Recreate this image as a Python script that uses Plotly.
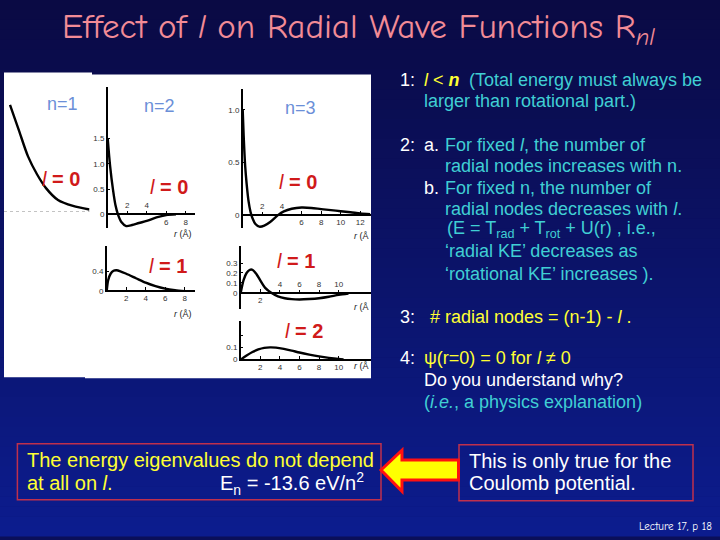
import plotly.graph_objects as go

# ---------------- data (r in Å, R in panel units) ----------------
r_n1_l0 = [0.2, 0.5, 0.8, 1.1, 1.4, 1.8, 2.3, 2.85]
R_n1_l0 = [2.7, 2.05, 1.4, 0.95, 0.6, 0.3, 0.15, 0.06]

r_n2_l0 = [0, 0.25, 0.55, 0.8, 1.05, 1.4, 1.9, 2.5, 3.2, 4, 5, 6, 7]
R_n2_l0 = [1.5, 0.95, 0.48, 0.18, 0.0, -0.15, -0.23, -0.21, -0.17, -0.13, -0.06, -0.015, 0.0]

r_n2_l1 = [0, 0.15, 0.4, 0.7, 1.0, 1.4, 2, 3, 4, 5, 6, 7, 8]
R_n2_l1 = [0, 0.22, 0.35, 0.41, 0.42, 0.40, 0.35, 0.26, 0.17, 0.10, 0.05, 0.02, 0.0]

r_n3_l0 = [0, 0.1, 0.25, 0.4, 0.6, 0.8, 1.0, 1.3, 1.7, 2.2, 2.8, 3.6, 4.2, 5, 6, 7, 8, 9, 10, 11, 12, 13]
R_n3_l0 = [1.0, 0.75, 0.47, 0.3, 0.13, 0.03, -0.03, -0.085, -0.11, -0.10, -0.065, 0.0, 0.035, 0.06,
           0.072, 0.068, 0.057, 0.047, 0.037, 0.027, 0.016, 0.008]

r_n3_l1 = [0, 0.3, 0.6, 0.9, 1.2, 1.6, 2.0, 2.5, 3.2, 3.8, 4.5, 5.2, 6, 7, 8, 9, 10, 11]
R_n3_l1 = [0, 0.13, 0.2, 0.23, 0.232, 0.19, 0.125, 0.05, -0.005, -0.035, -0.055, -0.064, -0.067,
           -0.063, -0.055, -0.04, -0.02, -0.007]

r_n3_l2 = [0, 0.6, 1.2, 1.8, 2.4, 3.0, 3.6, 4.4, 5.2, 6, 7, 8, 9, 10, 10.5]
R_n3_l2 = [0, 0.033, 0.062, 0.083, 0.096, 0.1, 0.098, 0.088, 0.074, 0.058, 0.041, 0.026, 0.014, 0.005, 0.002]

# tick labels (x ticks split into those printed below and above the r axis)
xb_n2_l0 = [6, 8];          xa_n2_l0 = [2, 4]
xb_n2_l1 = [2, 4, 6, 8]
xb_n3_l0 = [6, 8, 10, 12];  xa_n3_l0 = [2, 4]
xb_n3_l1 = [2];             xa_n3_l1 = [4, 6, 8, 10]
xb_n3_l2 = [2, 4, 6, 8, 10]
yt_n2_l0 = [0, 0.5, 1.0, 1.5]; yl_n2_l0 = ["0", "0.5", "1.0", "1.5"]
yt_n2_l1 = [0, 0.4]; yl_n2_l1 = ["0", "0.4"]
yt_n3_l0 = [0, 0.5, 1.0]; yl_n3_l0 = ["0", "0.5", "1.0"]
yt_n3_l1 = [0, 0.1, 0.2, 0.3]; yl_n3_l1 = ["0", "0.1", "0.2", "0.3"]
yt_n3_l2 = [0, 0.1]; yl_n3_l2 = ["0", "0.1"]; ym_n3_l2 = [0.2]

n_labels = ["n=1", "n=2", "n=3"]
l_labels = ["0", "0", "0", "1", "1", "2"]

W, H = 720, 540


def fx(x):
    return x / W


def fy(y):
    return 1 - y / H


TICKFONT = dict(family="Arial, Liberation Sans", size=8, color="#333333")

fig = go.Figure()

curves = [
    (r_n1_l0, R_n1_l0, "x", "y"),
    (r_n2_l0, R_n2_l0, "x2", "y2"),
    (r_n2_l1, R_n2_l1, "x3", "y3"),
    (r_n3_l0, R_n3_l0, "x4", "y4"),
    (r_n3_l1, R_n3_l1, "x5", "y5"),
    (r_n3_l2, R_n3_l2, "x6", "y6"),
]
for rr, RR, xa, ya in curves:
    fig.add_trace(go.Scatter(x=rr, y=RR, xaxis=xa, yaxis=ya, mode="lines",
                             line=dict(color="black", width=2.4, shape="spline", smoothing=0.8),
                             hoverinfo="skip", showlegend=False))
# empty traces that carry the top tick-label axes
for xa, ya in [("x7", "y2"), ("x8", "y4"), ("x9", "y5")]:
    fig.add_trace(go.Scatter(x=[], y=[], xaxis=xa, yaxis=ya, mode="lines",
                             hoverinfo="skip", showlegend=False))


def xax(d0, d1, rng, zero_y, tv, line=True):
    return dict(domain=[fx(d0), fx(d1)], range=rng, anchor="free", position=fy(zero_y),
                showline=line, linecolor="black", linewidth=1.5, showticklabels=line,
                ticks="inside" if line else "", ticklen=3, tickcolor="black", tickwidth=1,
                tickvals=tv, ticktext=[str(v) for v in tv], tickfont=TICKFONT,
                showgrid=False, zeroline=False, fixedrange=True)


def yax(top, bot, rng, anchor, tv, tt, line=True, minor=None):
    d = dict(domain=[fy(bot), fy(top)], range=rng, anchor=anchor,
             showline=line, linecolor="black", linewidth=1.5, showticklabels=line,
             ticks="inside" if line else "", ticklen=3, tickcolor="black", tickwidth=1,
             tickvals=tv, ticktext=tt, tickfont=TICKFONT, showgrid=False, zeroline=False,
             fixedrange=True)
    if minor:
        d["minor"] = dict(tickvals=minor, ticks="inside", ticklen=3, tickcolor="black", showgrid=False)
    return d


def xtop(over, rng, zero_y, tv):
    return dict(overlaying=over, range=rng, anchor="free", position=fy(zero_y), side="top",
                showline=False, ticks="outside", ticklen=3, tickcolor="black", tickwidth=1,
                tickvals=tv, ticktext=[str(v) for v in tv],
                tickfont=TICKFONT, showgrid=False, zeroline=False, fixedrange=True)


layout = dict(
    width=W, height=H, margin=dict(l=0, r=0, t=0, b=0),
    paper_bgcolor="#0b0f5a", plot_bgcolor="rgba(0,0,0,0)", showlegend=False,
    xaxis=xax(4, 89.5, [0, 2.85], 213.5, [], line=False),
    yaxis=yax(100, 213.5, [0, 2.84], "x", [], [], line=False),
    xaxis2=xax(107.7, 195, [0, 8.95], 216, xb_n2_l0),
    yaxis2=yax(88, 230, [-0.2745, 2.51], "x2", yt_n2_l0, yl_n2_l0),
    xaxis3=xax(106.7, 195, [0, 9.05], 293.3, xb_n2_l1),
    yaxis3=yax(248, 294.2, [-0.018, 0.906], "x3", yt_n2_l1, yl_n2_l1),
    xaxis4=xax(242.7, 371, [0, 13.09], 216.7, xb_n3_l0),
    yaxis4=yax(90, 230, [-0.1255, 1.195], "x4", yt_n3_l0, yl_n3_l0),
    xaxis5=xax(240.7, 371, [0, 13.3], 295, xb_n3_l1),
    yaxis5=yax(248.3, 311, [-0.16, 0.467], "x5", yt_n3_l1, yl_n3_l1),
    xaxis6=xax(240.7, 371, [0, 13.3], 362.3, xb_n3_l2),
    yaxis6=yax(323.3, 363.5, [-0.0098, 0.317], "x6", yt_n3_l2, yl_n3_l2, minor=ym_n3_l2),
    xaxis7=xtop("x2", [0, 8.95], 216, xa_n2_l0),
    xaxis8=xtop("x4", [0, 13.09], 216.7, xa_n3_l0),
    xaxis9=xtop("x5", [0, 13.3], 295, xa_n3_l1),
)

shapes = []
# background gradient
N = 54
top_c, bot_c = (10, 10, 68), (12, 28, 142)
for i in range(N):
    t = i / (N - 1)
    c = tuple(round(top_c[k] + (bot_c[k] - top_c[k]) * t) for k in range(3))
    shapes.append(dict(type="rect", xref="paper", yref="paper", layer="below",
                       x0=0, x1=1, y0=fy(i * H / N + H / N + 0.5), y1=fy(i * H / N),
                       line=dict(width=0), fillcolor="rgb(%d,%d,%d)" % c))
# white picture panel
shapes.append(dict(type="rect", xref="paper", yref="paper", layer="below",
                   x0=fx(4), x1=fx(92), y0=fy(380), y1=fy(73), line=dict(width=0), fillcolor="white"))
shapes.append(dict(type="rect", xref="paper", yref="paper", layer="below",
                   x0=fx(85), x1=fx(371), y0=fy(381), y1=fy(75), line=dict(width=0), fillcolor="white"))
# dotted axis of n=1 panel
shapes.append(dict(type="line", xref="x domain", yref="y", layer="above",
                   x0=0, x1=1, y0=0, y1=0, line=dict(color="#9a9a9a", width=1, dash="dot")))
# boxes at the bottom
for (x0, y0, x1, y1) in [(17.4, 447, 381, 503.4), (459, 448, 693, 504.5)]:
    shapes.append(dict(type="rect", xref="paper", yref="paper", layer="above",
                       x0=fx(x0), x1=fx(x1), y0=fy(y1), y1=fy(y0),
                       line=dict(color="#c0304c", width=1.5), fillcolor="rgba(0,0,0,0)"))
# arrow
pts = [(381, 473.5), (402, 453.5), (402, 463.5), (458.5, 463.5), (458.5, 483.5), (402, 483.5), (402, 495)]
path = "M " + " L ".join("%.4f,%.4f" % (fx(x), fy(y)) for x, y in pts) + " Z"
shapes.append(dict(type="path", xref="paper", yref="paper", layer="above", path=path,
                   fillcolor="#ffff00", line=dict(color="#ff1010", width=3)))
layout["shapes"] = shapes

ann = []


def add(x, y, text, color, size=18, anchor="left", family="Arial, Liberation Sans", yanchor="middle"):
    ann.append(dict(x=fx(x), y=fy(y), xref="paper", yref="paper", text=text, showarrow=False,
                    xanchor=anchor, yanchor=yanchor, font=dict(family=family, size=size, color=color)))


# title
add(358, 29, "Effect of <i>l</i> on Radial Wave Functions R<sub><i>nl</i></sub>", "#f28b96", size=35,
    anchor="center", family="Comic Sans MS, Comic Neue, Lato")

# panel labels
for txt, (x, y) in zip(n_labels, [(63, 105), (159, 106.7), (300, 109.3)]):
    add(x, y, txt, "#6b8fd8", size=18, anchor="center")
for txt, (x, y) in zip(l_labels, [(61, 180), (169, 188.3), (298, 183.3), (168, 268.3), (296, 263.3), (304, 333.3)]):
    add(x, y, "<i>l</i> <b>= " + txt + "</b>", "#d01a1a", size=20, anchor="center")
for (x, y, a, t) in [(183, 236, "center", "<i>r</i> (Å)"), (183, 316, "center", "<i>r</i> (Å)"),
                     (371, 237.5, "right", "<i>r</i> (Å"), (371, 309, "right", "<i>r</i> (Å"),
                     (371, 369, "right", "<i>r</i> (Å")]:
    add(x, y, t, "#222222", size=9, anchor=a)

CY, YE, WH = "#40cfd4", "#ffff33", "#ffffff"
right = [
    (398, 81, "1:", WH), (421.7, 81, "<i>l</i> &lt; <b><i>n</i></b>", YE),
    (466.7, 81, "(Total energy must always be", CY),
    (421.7, 101.7, "larger than rotational part.)", CY),
    (398, 146, "2:", WH), (421.7, 146, "a.", WH), (442.7, 146, "For fixed <i>l</i>, the number of", CY),
    (442.7, 167.3, "radial nodes increases with n.", CY),
    (421.7, 189, "b.", WH), (442.7, 189, "For fixed n, the number of", CY),
    (442.7, 210.7, "radial nodes decreases with <i>l</i>.", CY),
    (445, 231.7, "(E = T<sub>rad</sub> + T<sub>rot</sub> + U(r) , i.e.,", CY),
    (442.7, 253.3, "‘radial KE’ decreases as", CY),
    (442.7, 275.7, "‘rotational KE’ increases ).", CY),
    (398, 319, "3:", WH), (428.3, 319, "# radial nodes = (n-1) - <i>l</i> .", YE),
    (398, 361, "4:", WH), (421.7, 361, "ψ(r=0) = 0 for <i>l</i> ≠ 0", YE),
    (421.7, 383.3, "Do you understand why?", WH),
    (421.7, 405, "(<i>i.e.</i>, a physics explanation)", CY),
]
for x, y, t, c in right:
    add(x, y, t, c, size=18)

# bottom boxes
add(25.3, 463, "The energy eigenvalues do not depend", YE, size=20)
add(25.3, 487, "at all on <i>l</i>.", YE, size=20)
add(366, 487, "E<sub>n</sub> = -13.6 eV/n<sup>2</sup>", WH, size=20, anchor="right")
add(467.4, 464, "This is only true for the", WH, size=20)
add(467.4, 487, "Coulomb potential.", WH, size=20)

add(714, 530, "Lecture 17, p 18", WH, size=11, anchor="right", family="Comic Sans MS, Comic Neue, Lato")

layout["annotations"] = ann
fig.update_layout(**layout)
fig.write_html("out.html", config={"displayModeBar": False},
               post_script="document.body.style.margin='0px';")
